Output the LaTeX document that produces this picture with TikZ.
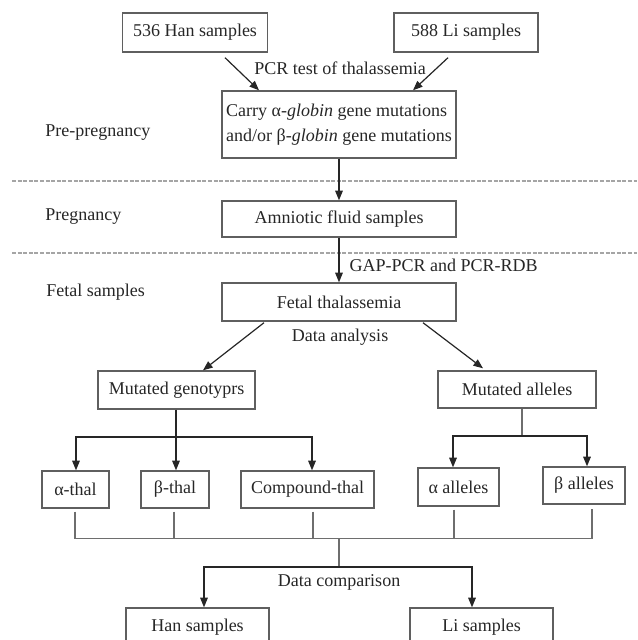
\documentclass[tikz,border=0pt]{standalone}
\usepackage{fontspec}
\setmainfont{Liberation Serif}
\usepackage{tikz}
\usetikzlibrary{shapes.geometric, arrows}
\usetikzlibrary{arrows.meta}
\definecolor{boxgray}{RGB}{95,95,95}
\definecolor{linegray}{RGB}{110,110,110}
\definecolor{sepgray}{RGB}{165,165,165}
\tikzstyle{process} = [rectangle, minimum height=18.5pt, inner sep=2pt, text centered, draw=boxgray, line width=0.7pt, text=black!85]
\tikzstyle{arrow} = [line width=0.6pt, draw=black!85, -{Triangle[length=4.8pt,width=3.8pt]}]
\tikzstyle{tline} = [line width=0.6pt, draw=linegray]
\tikzstyle{sep} = [line width=0.9pt, draw=sepgray, dash pattern=on 2pt off 0.8pt]
\tikzstyle{stage} = [anchor=west, inner sep=0pt, text=black!85]
\tikzstyle{lbl} = [inner sep=1pt, text=black!85]

\begin{document}
\begin{tikzpicture}[x=0.5pt, y=-0.5pt, node distance=45pt, font=\fontsize{9}{11}\selectfont]
                        \useasboundingbox (0,0) rectangle (637,640);
                        \clip (0,0) rectangle (637,640);

                        \node (carry) [process, minimum width=117pt, minimum height=33.5pt, align=left, font=\fontsize{9}{12.5}\selectfont] at (339,124.5) {Carry α-\textit{globin} gene mutations\\and/or β-\textit{globin} gene mutations};
                        \node (han) [process, above of=carry, minimum width=72.5pt, minimum height=19.5pt, xshift=-72pt, yshift=1pt] {536 Han samples};
                        \node (li) [process, above of=carry, minimum width=72pt, minimum height=19.5pt, xshift=63.5pt, yshift=1pt] {588 Li samples};

                        \node (amnio) [process, below of=carry, minimum width=117pt, minimum height=18pt, yshift=-2.25pt] {Amniotic fluid samples};
                        \node (fetal) [process, below of=amnio, minimum width=117pt, minimum height=19pt, yshift=3.5pt] {Fetal thalassemia};

                        \node (geno) [process, below of=fetal, minimum width=78.5pt, minimum height=19pt, xshift=-81.25pt, yshift=1pt] {Mutated genotyprs};
                        \node (alle) [process, below of=fetal, minimum width=79pt, xshift=89pt, yshift=1.25pt] {Mutated alleles};

                        \node (bthal) [process, below of=geno, minimum width=34pt, xshift=-0.75pt, yshift=-4.75pt] {β-thal};
                        \node (athal) [process, left of=bthal, minimum width=33.5pt, xshift=-4.75pt] {α-thal};
                        \node (cthal) [process, right of=bthal, minimum width=66.5pt, xshift=21.25pt] {Compound-thal};
                        \node (aall) [process, below of=alle, minimum width=40.5pt, minimum height=19pt, xshift=-29.25pt, yshift=-3.75pt] {α alleles};
                        \node (ball) [process, right of=aall, minimum width=41pt, xshift=17.75pt, yshift=0.75pt] {β alleles};

                        \node (hans) [process, below of=bthal, minimum width=71.5pt, minimum height=19pt, xshift=11.25pt, yshift=-23.75pt] {Han samples};
                        \node (lis) [process, right of=hans, minimum width=71.5pt, minimum height=19pt, xshift=97pt] {Li samples};

                        % stages and separators
                        \node (pre) [stage] at (45,133) {Pre-pregnancy};
                        \node (preg) [stage] at (45,217) {Pregnancy};
                        \node (fet) [stage] at (46,292) {Fetal samples};
                        \draw [sep] (12,181) -- (637,181);
                        \draw [sep] (12,253) -- (637,253);

                        \node (pcr) [lbl] at (340,68) {PCR test of thalassemia};
                        \node (ana) [lbl] at (340,337) {Data analysis};
                        \node (cmp) [lbl] at (339,582) {Data comparison};

                        \draw [arrow] ([xshift=15pt,yshift=-2.5pt]han.south) -- ([xshift=-40pt]carry.north);
                        \draw [arrow] ([xshift=-9pt,yshift=-2.5pt]li.south) -- ([xshift=37pt]carry.north);
                        \draw [arrow] (carry) -- (amnio);
                        \draw [arrow] (amnio) -- node[anchor=west, pos=0.62, inner sep=1pt, xshift=4pt, text=black!85] {GAP-PCR and PCR-RDB} (fetal);
                        \draw [arrow] ([xshift=-37.5pt,yshift=-0.5pt]fetal.south) -- ([xshift=13.25pt]geno.north);
                        \draw [arrow] ([xshift=42pt,yshift=-0.5pt]fetal.south) -- ([xshift=-17pt,yshift=1pt]alle.north);

                        % genotypes
                        \coordinate (gbar) at (176,437);
                        \draw [arrow] (geno.south -| gbar) -- (gbar |- bthal.north);
                        \draw [arrow] (gbar) -| ([xshift=0.25pt]athal.north);
                        \draw [arrow] (gbar) -| ([xshift=2.25pt]cthal.north);

                        % alleles
                        \coordinate (abar) at (522,436);
                        \draw [tline] (abar |- alle.south) -- (abar);
                        \draw [arrow] (abar) -| ([xshift=-2.75pt]aall.north);
                        \draw [arrow] (abar) -| ([xshift=1.5pt]ball.north);

                        % joining to comparison
                        \coordinate (jbar) at (339,538);
                        \coordinate (cbar) at (339,567);
                        \draw [tline] ([xshift=-0.25pt,yshift=-1.5pt]athal.south) -- ++(0,27) -| ([xshift=4pt,yshift=-2pt]ball.south);
                        \draw [tline] ([xshift=-0.5pt,yshift=-1.5pt]bthal.south) -- ++(0,27);
                        \draw [tline] ([xshift=2.75pt,yshift=-1.5pt]cthal.south) -- ++(0,27);
                        \draw [tline] ([xshift=-2.25pt,yshift=-1.5pt]aall.south) -- ++(0,29);
                        \draw [tline] (jbar) -- (cbar);
                        \draw [arrow] (cbar) -| ([xshift=3.25pt]hans.north);
                        \draw [arrow] (cbar) -| ([xshift=-4.75pt]lis.north);
                    \end{tikzpicture}
\end{document}
